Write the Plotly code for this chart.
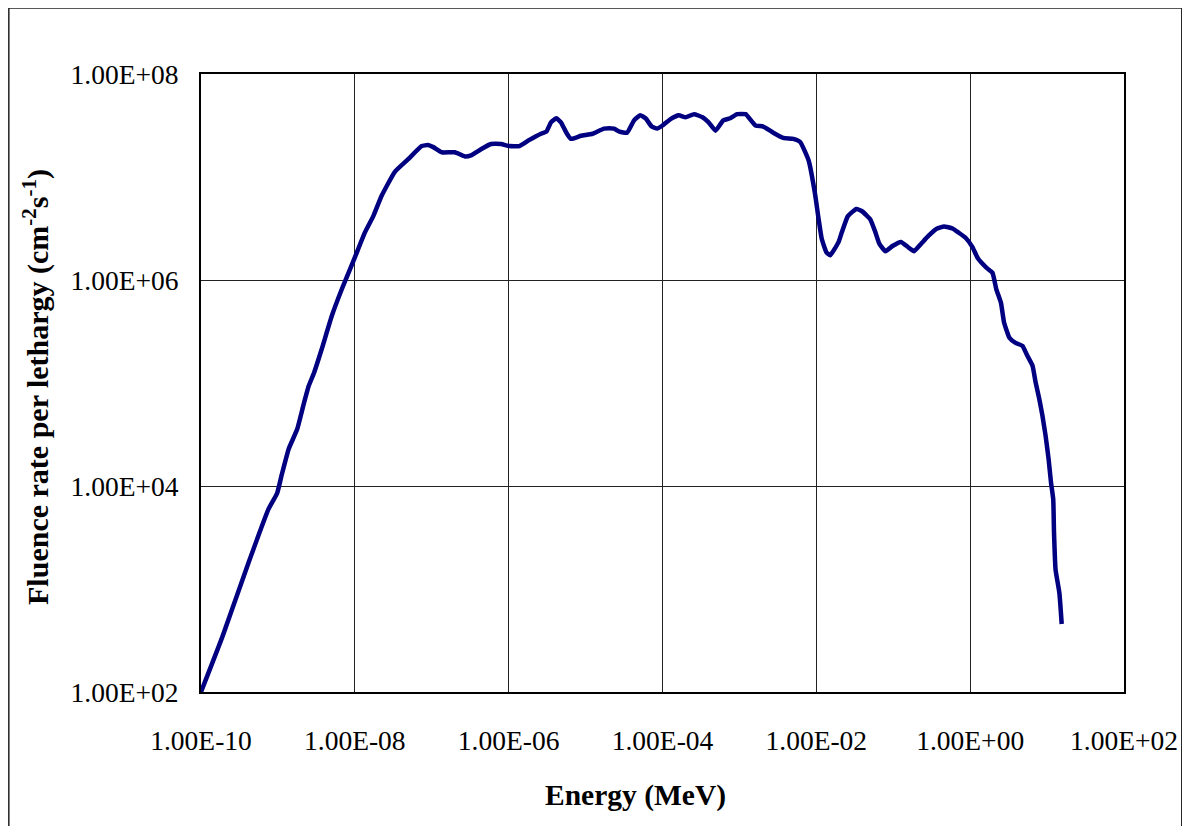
import plotly.graph_objects as go

# Values (log10 of energy in MeV, log10 of fluence rate)
energy_log10 = [
    -10.0, -9.72, -9.38, -9.12, -9.01, -8.95, -8.86, -8.75, -8.67, -8.60,
    -8.53, -8.43, -8.30, -8.17, -8.01, -7.87, -7.76, -7.65, -7.48, -7.31,
    -7.13, -7.05, -6.98, -6.87, -6.70, -6.57, -6.49, -6.36, -6.23, -6.10,
    -5.99, -5.86, -5.73, -5.58, -5.51, -5.45, -5.38, -5.32, -5.25, -5.19,
    -5.06, -4.91, -4.76, -4.63, -4.56, -4.46, -4.37, -4.29, -4.22, -4.14,
    -4.07, -4.00, -3.90, -3.79, -3.70, -3.59, -3.48, -3.40, -3.31, -3.21,
    -3.12, -3.03, -2.92, -2.79, -2.69, -2.56, -2.43, -2.30, -2.21, -2.10,
    -2.02, -1.97, -1.93, -1.87, -1.82, -1.71, -1.67, -1.59, -1.48, -1.41,
    -1.30, -1.24, -1.18, -1.10, -1.01, -0.90, -0.81, -0.73, -0.64, -0.54,
    -0.43, -0.34, -0.23, -0.15, -0.06, 0.03, 0.10, 0.21, 0.29, 0.34,
    0.40, 0.44, 0.51, 0.59, 0.68, 0.74, 0.81, 0.85, 0.90, 0.94,
    0.98, 1.02, 1.05, 1.08, 1.09, 1.11, 1.16, 1.19,
]
fluence_log10 = [
    2.00, 2.54, 3.26, 3.78, 3.93, 4.11, 4.36, 4.55, 4.78, 4.97,
    5.10, 5.33, 5.65, 5.91, 6.20, 6.46, 6.62, 6.82, 7.05, 7.17,
    7.30, 7.31, 7.29, 7.24, 7.24, 7.20, 7.21, 7.27, 7.32, 7.32,
    7.30, 7.30, 7.36, 7.42, 7.44, 7.53, 7.57, 7.53, 7.43, 7.37,
    7.40, 7.42, 7.47, 7.47, 7.44, 7.43, 7.55, 7.60, 7.57, 7.49,
    7.47, 7.50, 7.56, 7.60, 7.58, 7.61, 7.58, 7.53, 7.45, 7.55,
    7.57, 7.61, 7.61, 7.50, 7.49, 7.43, 7.38, 7.37, 7.34, 7.16,
    6.85, 6.59, 6.40, 6.27, 6.24, 6.37, 6.46, 6.62, 6.69, 6.67,
    6.59, 6.48, 6.35, 6.28, 6.33, 6.37, 6.32, 6.28, 6.35, 6.43,
    6.50, 6.52, 6.50, 6.46, 6.41, 6.32, 6.21, 6.12, 6.07, 5.91,
    5.78, 5.59, 5.44, 5.39, 5.36, 5.27, 5.17, 5.01, 4.84, 4.68,
    4.49, 4.26, 4.04, 3.87, 3.55, 3.19, 2.96, 2.66,
]

x_tick_values = [1e-10, 1e-8, 1e-6, 1e-4, 1e-2, 1e0, 1e2]
x_tick_labels = ["1.00E-10", "1.00E-08", "1.00E-06", "1.00E-04", "1.00E-02", "1.00E+00", "1.00E+02"]
y_tick_values = [1e2, 1e4, 1e6, 1e8]
y_tick_labels = ["1.00E+02", "1.00E+04", "1.00E+06", "1.00E+08"]

energy = [10 ** v for v in energy_log10]
fluence = [10 ** v for v in fluence_log10]

FONT = "Liberation Serif, Times New Roman, serif"

fig = go.Figure()
fig.add_trace(go.Scatter(
    x=energy, y=fluence, mode="lines",
    line=dict(color="#000080", width=4.5, shape="spline", smoothing=0.4),
    showlegend=False,
))

axis_common = dict(
    type="log",
    showgrid=True, gridcolor="#222222", gridwidth=1,
    showline=True, linecolor="black", linewidth=2, mirror=True,
    ticks="", zeroline=False,
    tickfont=dict(family=FONT, size=27.5, color="black"),
)

fig.update_xaxes(
    range=[-10, 2], tickmode="array", tickvals=x_tick_values, ticktext=x_tick_labels,
    ticklabelstandoff=23, **axis_common,
)
fig.update_yaxes(
    range=[2, 8], tickmode="array", tickvals=y_tick_values, ticktext=y_tick_labels,
    ticklabelstandoff=15, **axis_common,
)

# page body has an 8px margin, so the figure is kept inside the window
fig.update_layout(
    width=1182, height=818,
    margin=dict(l=193, r=62, t=66, b=134),
    paper_bgcolor="white", plot_bgcolor="white",
    font=dict(family=FONT, color="black"),
    annotations=[
        dict(text="<b>Energy (MeV)</b>", xref="paper", yref="paper",
             x=0.4709, y=-0.1667, xanchor="center", yanchor="middle",
             showarrow=False, font=dict(family=FONT, size=29.5, color="black")),
        dict(text="<b>Fluence rate per lethargy (cm<sup>-2</sup>s<sup>-1</sup>)</b>",
             xref="paper", yref="paper", textangle=-90,
             x=-0.1785, y=0.494, xanchor="center", yanchor="middle",
             showarrow=False, font=dict(family=FONT, size=30, color="black")),
    ],
    shapes=[
        dict(type="rect", xref="paper", yref="paper",
             x0=-0.2082, x1=1.0626, y0=-0.26, y1=1.1068,
             line=dict(color="#222222", width=1.5), fillcolor="rgba(0,0,0,0)",
             layer="below"),
    ],
)

fig.write_html("out.html")
